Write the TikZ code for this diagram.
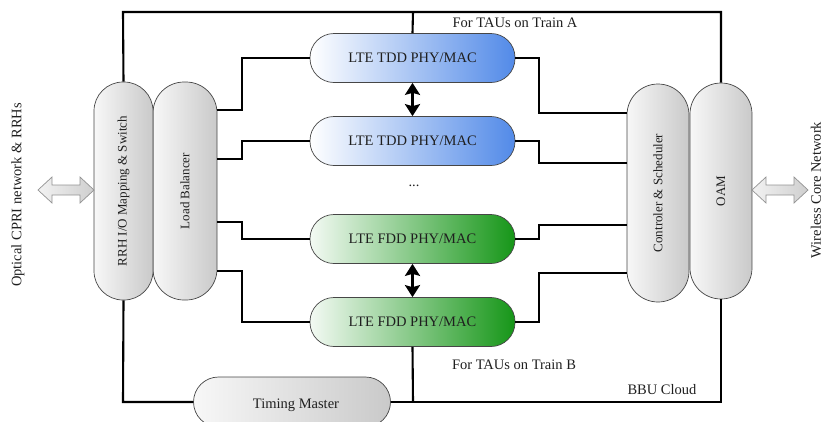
\documentclass[tikz,border=0pt]{standalone}
\usepackage{fontspec}
\setmainfont{Liberation Serif}
\usetikzlibrary{arrows.meta}
\definecolor{tddblue}{RGB}{82,138,232}
\definecolor{fddgreen}{RGB}{22,150,24}
\definecolor{outl}{RGB}{70,70,70}
\tikzset{
  x=1pt, y=-1pt,
  txt/.style={font=\fontsize{14.5}{16}\selectfont, text=black!88, inner sep=0pt},
  rtxt/.style={font=\fontsize{13}{15}\selectfont, text=black!88, inner sep=0pt, rotate=90},
  graypill/.style={draw=outl, line width=0.7pt, left color=gray!6, right color=gray!42, inner sep=0pt},
  tddpill/.style={draw=outl, line width=0.7pt, left color=white, right color=tddblue, rounded corners=24pt, minimum width=205pt, minimum height=49pt, inner sep=0pt, txt},
  fddpill/.style={draw=outl, line width=0.7pt, left color=white!95!fddgreen, right color=fddgreen, rounded corners=24pt, minimum width=205pt, minimum height=49pt, inner sep=0pt, txt},
  conn/.style={line width=2.1pt, black},
  bigarr/.style={line width=3pt, {Stealth[length=12pt,width=15pt,inset=2pt]}-{Stealth[length=12pt,width=15pt,inset=2pt]}},
  blockarrow/.style={draw=gray!85, line width=0.7pt, left color=gray!10, right color=gray!38, line join=miter},
}
\newcommand{\blockarr}[1]{%
  \draw[blockarrow] ([shift={(-28,0)}]#1) -- ++(14,-13) -- ++(0,8) -- ++(28,0) -- ++(0,-8) -- ++(14,13) -- ++(-14,13) -- ++(0,-8) -- ++(-28,0) -- ++(0,8) -- cycle;}
\begin{document}
\begin{tikzpicture}
\useasboundingbox (0,0) rectangle (833,421);
% vertical pills
\node[graypill, rounded corners=31pt, minimum width=64pt, minimum height=218pt] (lb) at (185,191) {};
\node[graypill, rounded corners=29pt, minimum width=59pt, minimum height=218pt] (rrh) at (123.5,191) {};
\node[graypill, rounded corners=31pt, minimum width=62pt, minimum height=216pt] (oam) at (721,191) {};
\node[graypill, rounded corners=31pt, minimum width=62pt, minimum height=218pt] (ctrl) at (658,193) {};
\node[rtxt] (rrht) at (rrh.center) {RRH I/O Mapping \& Switch};
\node[rtxt] (lbt) at (lb.center) {Load Balancer};
\node[rtxt] (ctrlt) at (ctrl.center) {Controler \& Scheduler};
\node[rtxt] (oamt) at (oam.center) {OAM};
% horizontal pills
\node[tddpill] (tdd1) at (412.5,58) {LTE TDD PHY/MAC};
\node[tddpill] (tdd2) at (412.5,141) {LTE TDD PHY/MAC};
\node[fddpill] (fdd1) at (412.5,239) {LTE FDD PHY/MAC};
\node[fddpill] (fdd2) at (412.5,322) {LTE FDD PHY/MAC};
\node[txt] (dots) at (414,186) {...};
% timing master
\node[graypill, rounded corners=25pt, minimum width=197pt, minimum height=50pt] (tm) at (292,402) {};
\node[txt] (tmt) at (296,405) {Timing Master};
% frame
\coordinate (tl) at (123,12);
\coordinate (tr) at (721,12);
\coordinate (tc) at (413,12);
\coordinate (bl) at (123,402);
\coordinate (br) at (721,402);
\coordinate (bc) at (413,402);
\draw[conn] (rrh.north) -- (tl) -- (tr) -- (oam.north);
\draw[conn] (tc) -- (tdd1.north);
\draw[conn] (rrh.south) -- (bl) -- (tm.west);
\draw[conn] (tm.east) -- (br) -- (oam.south);
\draw[conn] (fdd2.south) -- (bc);
% left connectors
\draw[conn] (lb.east |- 0,110) -- (242,110) -- (242,58) -- (tdd1.west);
\draw[conn] (lb.east |- 0,159) -- (242,159) -- (242,141) -- (tdd2.west);
\draw[conn] (lb.east |- 0,222) -- (242,222) -- (242,239) -- (fdd1.west);
\draw[conn] (lb.east |- 0,271) -- (242,271) -- (242,322) -- (fdd2.west);
% right connectors
\draw[conn] (tdd1.east) -- (539,58) -- (539,113) -- (ctrl.west |- 0,113);
\draw[conn] (tdd2.east) -- (539,141) -- (539,163) -- (ctrl.west |- 0,163);
\draw[conn] (fdd1.east) -- (539,239) -- (539,225) -- (ctrl.west |- 0,225);
\draw[conn] (fdd2.east) -- (539,322) -- (539,273) -- (ctrl.west |- 0,273);
% vertical double arrows
\draw[bigarr] (tdd1.south) -- (tdd2.north);
\draw[bigarr] (fdd1.south) -- (fdd2.north);
% block arrows
\coordinate (inarr) at (66,190);
\coordinate (outarr) at (780,190);
\blockarr{inarr}
\blockarr{outarr}
% outer labels
\node[rtxt, font=\fontsize{14.5}{16}\selectfont] (optl) at (18,195) {Optical CPRI network \& RRHs};
\node[rtxt, font=\fontsize{14.5}{16}\selectfont] (wcn) at (816,190) {Wireless Core Network};
\node[txt] (ta) at (515,23) {For TAUs on Train A};
\node[txt] (tb) at (514,365) {For TAUs on Train B};
\node[txt] (bbu) at (662,390) {BBU Cloud};
\end{tikzpicture}
\end{document}
